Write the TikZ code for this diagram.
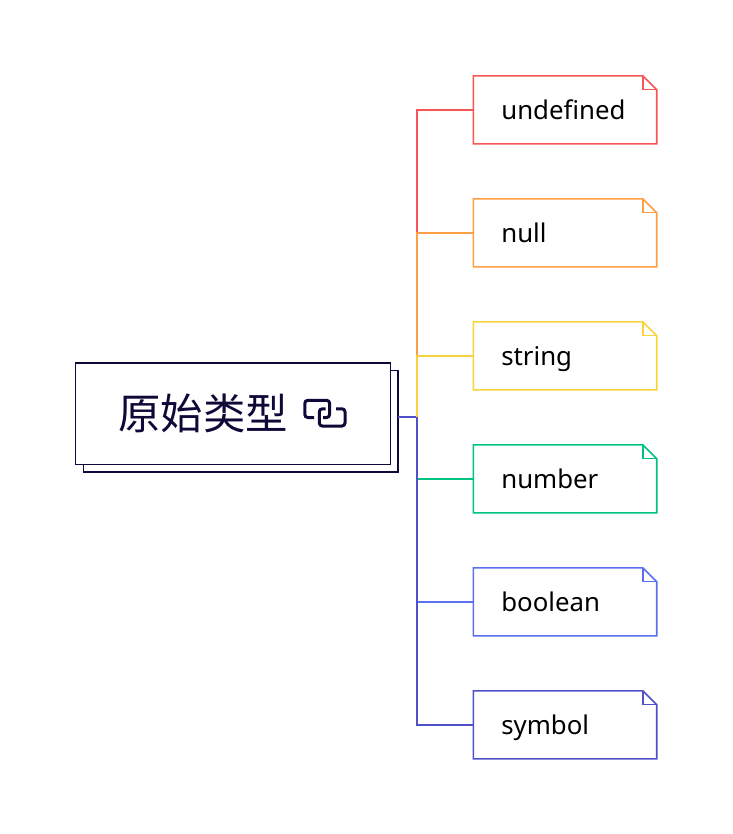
\documentclass[tikz,border=0pt]{standalone}
\usepackage{fontspec}
\setmainfont{Noto Sans}
\newfontfamily\cjk{Noto Sans CJK SC}
\definecolor{cred}{HTML}{F95555}
\definecolor{corange}{HTML}{FF9F45}
\definecolor{cyellow}{HTML}{F8D33C}
\definecolor{cgreen}{HTML}{00C382}
\definecolor{cblue}{HTML}{5B70EE}
\definecolor{cindigo}{HTML}{5050C8}
\definecolor{cdark}{HTML}{100838}
\tikzset{
  x=1pt,y=-1pt,
  notebox/.style={minimum width=183.4pt,minimum height=68pt,inner ysep=0pt,outer sep=0pt,
    text=black,font=\fontsize{25.8}{30}\selectfont,anchor=west,align=left,text width=127.4pt,
    inner xsep=28pt,text height=24pt,text depth=5pt},
  noteline/.style={line width=1.6pt,draw=#1,line join=miter},
  rootbox/.style={draw=cdark,line width=1.4pt,fill=white,minimum width=314.6pt,minimum height=101.3pt,inner sep=0pt,outer sep=0pt,anchor=north west},
  conn/.style={line width=1.6pt,draw=#1},
  linkicon/.style={draw=cdark,line width=3pt,rounded corners=3pt},
}
\newcommand{\notenode}[4]{%
  \node[notebox] (#1) at (473.3,#3) {#4};
  \draw[noteline=#2] (#1.north west) -- ([xshift=-13.7pt]#1.north east) -- ([yshift=-13.7pt]#1.north east) -- (#1.south east) -- (#1.south west) -- cycle;
  \draw[noteline=#2] ([xshift=-13.7pt]#1.north east) -- ([xshift=-13.7pt,yshift=-13.7pt]#1.north east) -- ([yshift=-13.7pt]#1.north east);
}
\begin{document}
\begin{tikzpicture}
\useasboundingbox (0,0) rectangle (732,834);
\fill[white] (0,0) rectangle (732,834);
\node[rootbox] (back) at (83.2,370.5) {};
\node[rootbox] (root) at (75.7,363) {};
\node[text=cdark,font=\cjk\fontsize{42.4}{50}\selectfont,anchor=west,inner sep=0pt] (title) at (118,413) {原始类型};
\draw[linkicon] (314,417.5) -- (304.8,417.5) -- (304.8,400.3) -- (329.6,400.3) -- (329.6,417.5) -- (323,417.5);
\draw[linkicon] (336,408.8) -- (345,408.8) -- (345,426) -- (319.3,426) -- (319.3,408.8) -- (325.5,408.8);
\notenode{n1}{cred}{109.9}{undefined}
\notenode{n2}{corange}{232.9}{null}
\notenode{n3}{cyellow}{355.9}{string}
\notenode{n4}{cgreen}{478.9}{number}
\notenode{n5}{cblue}{601.9}{boolean}
\notenode{n6}{cindigo}{724.9}{symbol}
\coordinate (jn) at (417.2,416.9);
\draw[conn=cindigo] (back.east |- jn) -- (jn);
\draw[conn=cgreen] (n4.west) -- (jn |- n4.west);
\draw[conn=cblue] (n5.west) -- (jn |- n5.west);
\draw[conn=cindigo] (jn) |- (n6.west);
\draw[conn=cred] (n1.west) -| (jn |- n2.west);
\draw[conn=corange] (n2.west) -| (jn |- n3.west);
\draw[conn=cyellow] (n3.west) -| (jn);
\end{tikzpicture}
\end{document}
